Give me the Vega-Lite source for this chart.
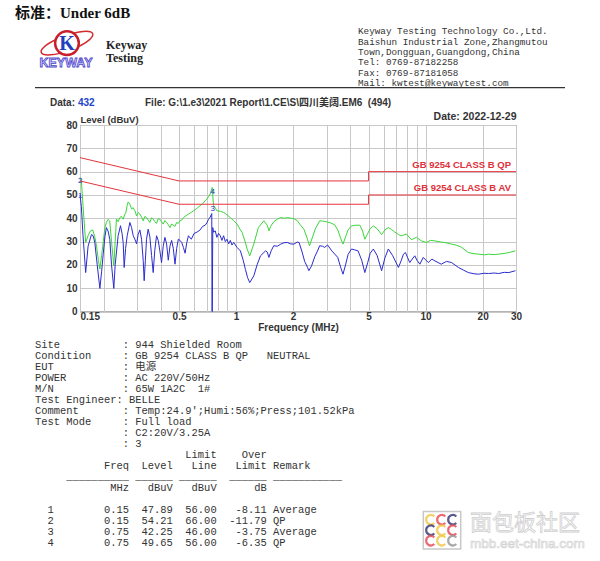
{
  "$schema": "https://vega.github.io/schema/vega-lite/v6.json",
  "padding": {"left": 15, "top": 5, "right": 5, "bottom": 5},
  "background": "white",
  "bounds": "flush",
  "spacing": 0,
  "config": {"view": {"stroke": null}},
  "datasets": {
    "letterhead": [
      {"item": "title", "text": "标准：Under 6dB", "line": -0.78},
      {"item": "logo", "text": "K", "line": 2.14},
      {"item": "brand", "text": "KEYWAY", "line": 4.08},
      {"item": "name", "text": "Keyway", "line": 2.34},
      {"item": "name", "text": "Testing", "line": 3.59},
      {"item": "address", "text": "Keyway Testing Technology Co.,Ltd.", "line": 1},
      {"item": "address", "text": "Baishun Industrial Zone,Zhangmutou", "line": 2},
      {"item": "address", "text": "Town,Dongguan,Guangdong,China", "line": 3},
      {"item": "address", "text": "Tel: 0769-87182258", "line": 4},
      {"item": "address", "text": "Fax: 0769-87181058", "line": 5},
      {"item": "address", "text": "Mail: kwtest@keywaytest.com", "line": 6},
      {"item": "rule", "line": 6.43},
      {"item": "data_label", "text": "Data:", "line": 7.89},
      {"item": "data_value", "text": "432", "line": 7.89},
      {"item": "file", "text": "File: G:\\1.e3\\2021 Report\\1.CE\\S\\四川美阔.EM6\u00a0\u00a0(494)", "line": 7.89},
      {"item": "date", "text": "Date: 2022-12-29", "line": 9.25}
    ],
    "qp_scan": [
      {"freq":0.150,"level":57.5},{"freq":0.1525,"level":56},{"freq":0.1556,"level":45.4},{"freq":0.1607,"level":29.6},{"freq":0.1655,"level":32.5},{"freq":0.170,"level":34.5},{"freq":0.175,"level":35},{"freq":0.1796,"level":32},{"freq":0.1834,"level":28},{"freq":0.1875,"level":22},{"freq":0.191,"level":18.2},{"freq":0.195,"level":24},{"freq":0.1991,"level":30},{"freq":0.2030,"level":36},{"freq":0.2067,"level":38.2},{"freq":0.2110,"level":39.5},{"freq":0.2154,"level":38.8},{"freq":0.2200,"level":30},{"freq":0.2262,"level":19.6},{"freq":0.2300,"level":30},{"freq":0.2336,"level":39.6},{"freq":0.2384,"level":38.5},{"freq":0.2434,"level":40.3},{"freq":0.2480,"level":40.8},{"freq":0.2535,"level":39.6},{"freq":0.2580,"level":41.5},{"freq":0.2619,"level":42.5},{"freq":0.2660,"level":45.5},{"freq":0.2695,"level":47},{"freq":0.2750,"level":46},{"freq":0.2807,"level":44},{"freq":0.2864,"level":44.5},{"freq":0.2923,"level":43.2},{"freq":0.2983,"level":41},{"freq":0.3040,"level":42.5},{"freq":0.3105,"level":41.8},{"freq":0.3170,"level":40.5},{"freq":0.3233,"level":38.9},{"freq":0.3300,"level":40.8},{"freq":0.3366,"level":40.3},{"freq":0.3435,"level":39.2},{"freq":0.3506,"level":38.2},{"freq":0.3580,"level":40.2},{"freq":0.3651,"level":39.6},{"freq":0.3720,"level":38.5},{"freq":0.3802,"level":37.8},{"freq":0.3880,"level":39.8},{"freq":0.3959,"level":39.6},{"freq":0.4040,"level":38.5},{"freq":0.4124,"level":37.5},{"freq":0.4209,"level":39},{"freq":0.4297,"level":38.2},{"freq":0.4385,"level":37.2},{"freq":0.4476,"level":36},{"freq":0.4568,"level":37.5},{"freq":0.4663,"level":37},{"freq":0.4758,"level":36.5},{"freq":0.4856,"level":38.2},{"freq":0.4957,"level":37.8},{"freq":0.5059,"level":38.9},{"freq":0.5164,"level":39.2},{"freq":0.527,"level":40.3},{"freq":0.5379,"level":40.8},{"freq":0.5603,"level":41.8},{"freq":0.5800,"level":42.5},{"freq":0.5955,"level":43.2},{"freq":0.6203,"level":44.2},{"freq":0.6461,"level":45.4},{"freq":0.6650,"level":46.2},{"freq":0.6866,"level":47.5},{"freq":0.7007,"level":48.2},{"freq":0.7150,"level":49.2},{"freq":0.7298,"level":50.4},{"freq":0.7400,"level":52},{"freq":0.7480,"level":53.2},{"freq":0.7530,"level":50},{"freq":0.7602,"level":45.4},{"freq":0.7758,"level":44.5},{"freq":0.7918,"level":43.2},{"freq":0.8247,"level":43},{"freq":0.859,"level":42.5},{"freq":0.8948,"level":41.5},{"freq":0.932,"level":40.3},{"freq":0.9709,"level":39},{"freq":1.011,"level":37.5},{"freq":1.0534,"level":35},{"freq":1.075,"level":33.9},{"freq":1.12,"level":29.5},{"freq":1.1429,"level":26.8},{"freq":1.18,"level":23.9},{"freq":1.2397,"level":28.9},{"freq":1.31,"level":36},{"freq":1.40,"level":38.9},{"freq":1.46,"level":37},{"freq":1.49,"level":34.6},{"freq":1.52,"level":36.5},{"freq":1.58,"level":38.5},{"freq":1.65,"level":39.6},{"freq":1.72,"level":40.3},{"freq":1.80,"level":40},{"freq":1.87,"level":40.3},{"freq":1.95,"level":40},{"freq":2.02,"level":39.8},{"freq":2.10,"level":39},{"freq":2.19,"level":37},{"freq":2.28,"level":35.3},{"freq":2.38,"level":31},{"freq":2.44,"level":28.2},{"freq":2.52,"level":31.5},{"freq":2.62,"level":35.5},{"freq":2.76,"level":38.9},{"freq":2.86,"level":38.8},{"freq":2.99,"level":38.5},{"freq":3.15,"level":38},{"freq":3.31,"level":37.2},{"freq":3.44,"level":35},{"freq":3.56,"level":31.5},{"freq":3.665,"level":28.9},{"freq":3.78,"level":32},{"freq":3.9,"level":35},{"freq":4.06,"level":36.7},{"freq":4.25,"level":37},{"freq":4.50,"level":37},{"freq":4.65,"level":34.5},{"freq":4.78,"level":31},{"freq":4.95,"level":33.5},{"freq":5.1,"level":35.5},{"freq":5.30,"level":36.7},{"freq":5.55,"level":35.5},{"freq":5.86,"level":33},{"freq":6.1,"level":35},{"freq":6.36,"level":36},{"freq":6.6,"level":35.2},{"freq":6.85,"level":34.2},{"freq":7.19,"level":33},{"freq":7.45,"level":32.5},{"freq":7.92,"level":33.2},{"freq":8.42,"level":30.8},{"freq":8.95,"level":31.8},{"freq":9.5,"level":30.3},{"freq":10.1,"level":29.6},{"freq":10.6,"level":30.5},{"freq":11.2,"level":30.3},{"freq":12.0,"level":29.8},{"freq":12.63,"level":29.6},{"freq":13.7,"level":28.9},{"freq":14.5,"level":28.5},{"freq":15.5,"level":27.5},{"freq":16.8,"level":25.3},{"freq":18.0,"level":24.8},{"freq":19.0,"level":24.6},{"freq":20.5,"level":24.3},{"freq":21.5,"level":24.6},{"freq":23,"level":24.4},{"freq":24.3,"level":24.6},{"freq":26,"level":24.9},{"freq":27.5,"level":25.3},{"freq":29.8,"level":26}
    ],
    "av_scan": [
      {"freq":0.150,"level":50},{"freq":0.1525,"level":45},{"freq":0.1556,"level":32.5},{"freq":0.1607,"level":16.7},{"freq":0.1655,"level":28},{"freq":0.1724,"level":33},{"freq":0.1760,"level":32.5},{"freq":0.1796,"level":29.6},{"freq":0.1849,"level":20},{"freq":0.191,"level":9.9},{"freq":0.1950,"level":17},{"freq":0.1991,"level":25},{"freq":0.2030,"level":32},{"freq":0.2067,"level":36},{"freq":0.2110,"level":34.5},{"freq":0.2154,"level":31},{"freq":0.2200,"level":20},{"freq":0.2262,"level":9.9},{"freq":0.2300,"level":20},{"freq":0.2384,"level":32.5},{"freq":0.2454,"level":36.8},{"freq":0.2500,"level":33.5},{"freq":0.2535,"level":29.6},{"freq":0.2566,"level":18.9},{"freq":0.2610,"level":27},{"freq":0.2662,"level":32.5},{"freq":0.2750,"level":38.2},{"freq":0.2807,"level":36},{"freq":0.2864,"level":32.5},{"freq":0.2923,"level":31},{"freq":0.2983,"level":29},{"freq":0.3040,"level":33},{"freq":0.3105,"level":35},{"freq":0.3170,"level":31},{"freq":0.3233,"level":22},{"freq":0.3272,"level":13.2},{"freq":0.3320,"level":22},{"freq":0.3366,"level":31},{"freq":0.3435,"level":35.3},{"freq":0.3506,"level":32},{"freq":0.3580,"level":24},{"freq":0.3651,"level":16.7},{"freq":0.3720,"level":26},{"freq":0.3802,"level":32.5},{"freq":0.3880,"level":30.5},{"freq":0.3959,"level":26},{"freq":0.4040,"level":21},{"freq":0.4124,"level":28},{"freq":0.4209,"level":31.8},{"freq":0.4297,"level":29},{"freq":0.4385,"level":22},{"freq":0.4476,"level":28},{"freq":0.4568,"level":30.5},{"freq":0.4663,"level":27},{"freq":0.4758,"level":20.3},{"freq":0.4856,"level":27},{"freq":0.4957,"level":31},{"freq":0.5059,"level":30.5},{"freq":0.5164,"level":29.6},{"freq":0.527,"level":27.5},{"freq":0.5379,"level":25},{"freq":0.5490,"level":29.5},{"freq":0.5603,"level":32.5},{"freq":0.5800,"level":31},{"freq":0.6000,"level":33.5},{"freq":0.6203,"level":34},{"freq":0.6461,"level":35},{"freq":0.6650,"level":36.5},{"freq":0.6866,"level":37},{"freq":0.7007,"level":38},{"freq":0.7150,"level":39.5},{"freq":0.7298,"level":40.5},{"freq":0.7440,"level":42},{"freq":0.7465,"level":0},{"freq":0.7485,"level":0},{"freq":0.7530,"level":36},{"freq":0.7602,"level":34},{"freq":0.7758,"level":34.6},{"freq":0.7918,"level":31.8},{"freq":0.8080,"level":33.5},{"freq":0.8247,"level":32.5},{"freq":0.8420,"level":30.5},{"freq":0.8590,"level":32.5},{"freq":0.8770,"level":30},{"freq":0.8948,"level":31},{"freq":0.9130,"level":29},{"freq":0.9320,"level":30.5},{"freq":0.9510,"level":28.5},{"freq":0.9709,"level":29.6},{"freq":1.011,"level":27.5},{"freq":1.0534,"level":26},{"freq":1.0900,"level":22},{"freq":1.12,"level":18},{"freq":1.15,"level":14.5},{"freq":1.18,"level":12.4},{"freq":1.24,"level":15.3},{"freq":1.29,"level":20},{"freq":1.345,"level":23.9},{"freq":1.43,"level":26},{"freq":1.46,"level":25.5},{"freq":1.49,"level":23.2},{"freq":1.53,"level":26},{"freq":1.58,"level":28.2},{"freq":1.65,"level":28},{"freq":1.72,"level":28.9},{"freq":1.79,"level":29.5},{"freq":1.86,"level":29.6},{"freq":1.94,"level":29},{"freq":2.02,"level":28.9},{"freq":2.10,"level":29.8},{"freq":2.15,"level":29.6},{"freq":2.23,"level":25.5},{"freq":2.30,"level":21.5},{"freq":2.38,"level":19},{"freq":2.42,"level":17.5},{"freq":2.50,"level":19.5},{"freq":2.60,"level":23.5},{"freq":2.69,"level":26},{"freq":2.76,"level":28.2},{"freq":2.86,"level":28},{"freq":2.93,"level":27.5},{"freq":3.04,"level":28.5},{"freq":3.2,"level":26},{"freq":3.44,"level":23.2},{"freq":3.56,"level":19},{"freq":3.665,"level":16},{"freq":3.78,"level":20},{"freq":3.9,"level":24.5},{"freq":4.06,"level":26.8},{"freq":4.2,"level":26.5},{"freq":4.4,"level":26},{"freq":4.6,"level":22},{"freq":4.78,"level":16.7},{"freq":4.95,"level":21},{"freq":5.1,"level":25},{"freq":5.30,"level":26.8},{"freq":5.55,"level":24},{"freq":5.86,"level":17.5},{"freq":6.1,"level":23},{"freq":6.36,"level":26.8},{"freq":6.7,"level":24},{"freq":7.19,"level":18.9},{"freq":7.45,"level":22},{"freq":7.64,"level":24.6},{"freq":7.83,"level":25.3},{"freq":8.05,"level":23},{"freq":8.25,"level":21},{"freq":8.5,"level":22.5},{"freq":8.77,"level":23.9},{"freq":9.0,"level":22},{"freq":9.33,"level":20.3},{"freq":9.72,"level":23.2},{"freq":10.33,"level":21},{"freq":10.8,"level":22.5},{"freq":11.2,"level":21.7},{"freq":12.1,"level":20.3},{"freq":12.9,"level":21.5},{"freq":13.7,"level":21},{"freq":14.9,"level":18.9},{"freq":15.8,"level":17.8},{"freq":16.8,"level":16.7},{"freq":18,"level":16.2},{"freq":19,"level":16},{"freq":20.3,"level":16.4},{"freq":21.5,"level":16.3},{"freq":23,"level":16.5},{"freq":24.3,"level":16.3},{"freq":26,"level":16.8},{"freq":27.5,"level":16.7},{"freq":29.8,"level":17.5}
    ],
    "limits": [
      {"limit":"GB 9254 CLASS B QP","seq":1,"freq":0.15,"level":66},
      {"limit":"GB 9254 CLASS B QP","seq":2,"freq":0.5,"level":56},
      {"limit":"GB 9254 CLASS B QP","seq":3,"freq":5,"level":56},
      {"limit":"GB 9254 CLASS B QP","seq":4,"freq":5,"level":60},
      {"limit":"GB 9254 CLASS B QP","seq":5,"freq":30,"level":60},
      {"limit":"GB 9254 CLASS B AV","seq":1,"freq":0.15,"level":56},
      {"limit":"GB 9254 CLASS B AV","seq":2,"freq":0.5,"level":46},
      {"limit":"GB 9254 CLASS B AV","seq":3,"freq":5,"level":46},
      {"limit":"GB 9254 CLASS B AV","seq":4,"freq":5,"level":50},
      {"limit":"GB 9254 CLASS B AV","seq":5,"freq":30,"level":50}
    ],
    "limit_labels": [
      {"limit":"GB 9254 CLASS B QP","freq":30,"level":60},
      {"limit":"GB 9254 CLASS B AV","freq":30,"level":50}
    ],
    "markers": [
      {"no":"1","freq":0.15,"level":47.89,"limit":56,"over":-8.11,"remark":"Average"},
      {"no":"2","freq":0.15,"level":54.21,"limit":66,"over":-11.79,"remark":"QP"},
      {"no":"3","freq":0.75,"level":42.25,"limit":46,"over":-3.75,"remark":"Average"},
      {"no":"4","freq":0.75,"level":49.65,"limit":56,"over":-6.35,"remark":"QP"}
    ],
    "printout": [
      {"line":0,"text":"Site\u00a0\u00a0\u00a0\u00a0\u00a0\u00a0\u00a0\u00a0\u00a0\u00a0: 944 Shielded Room"},
      {"line":1,"text":"Condition\u00a0\u00a0\u00a0\u00a0\u00a0: GB 9254 CLASS B QP\u00a0\u00a0\u00a0NEUTRAL"},
      {"line":2,"text":"EUT\u00a0\u00a0\u00a0\u00a0\u00a0\u00a0\u00a0\u00a0\u00a0\u00a0\u00a0: 电源"},
      {"line":3,"text":"POWER\u00a0\u00a0\u00a0\u00a0\u00a0\u00a0\u00a0\u00a0\u00a0: AC 220V/50Hz"},
      {"line":4,"text":"M/N\u00a0\u00a0\u00a0\u00a0\u00a0\u00a0\u00a0\u00a0\u00a0\u00a0\u00a0: 65W 1A2C\u00a0\u00a01#"},
      {"line":5,"text":"Test Engineer: BELLE"},
      {"line":6,"text":"Comment\u00a0\u00a0\u00a0\u00a0\u00a0\u00a0\u00a0: Temp:24.9';Humi:56%;Press;101.52kPa"},
      {"line":7,"text":"Test Mode\u00a0\u00a0\u00a0\u00a0\u00a0: Full load"},
      {"line":8,"text":"\u200b\u00a0\u00a0\u00a0\u00a0\u00a0\u00a0\u00a0\u00a0\u00a0\u00a0\u00a0\u00a0\u00a0\u00a0: C2:20V/3.25A"},
      {"line":9,"text":"\u200b\u00a0\u00a0\u00a0\u00a0\u00a0\u00a0\u00a0\u00a0\u00a0\u00a0\u00a0\u00a0\u00a0\u00a0: 3"},
      {"line":10,"text":"\u200b\u00a0\u00a0\u00a0\u00a0\u00a0\u00a0\u00a0\u00a0\u00a0\u00a0\u00a0\u00a0\u00a0\u00a0\u00a0\u00a0\u00a0\u00a0\u00a0\u00a0\u00a0\u00a0\u00a0\u00a0Limit\u00a0\u00a0\u00a0\u00a0Over"},
      {"line":11,"text":"\u200b\u00a0\u00a0\u00a0\u00a0\u00a0\u00a0\u00a0\u00a0\u00a0\u00a0\u00a0Freq\u00a0\u00a0Level\u00a0\u00a0\u00a0Line\u00a0\u00a0\u00a0Limit Remark"},
      {"line":12,"text":"\u200b\u00a0\u00a0\u00a0\u00a0\u00a0__________ ______ ______\u00a0\u00a0______ ___________"},
      {"line":13,"text":"\u200b\u00a0\u00a0\u00a0\u00a0\u00a0\u00a0\u00a0\u00a0\u00a0\u00a0\u00a0\u00a0MHz\u00a0\u00a0\u00a0dBuV\u00a0\u00a0\u00a0dBuV\u00a0\u00a0\u00a0\u00a0\u00a0\u00a0dB"},
      {"line":15,"text":"\u200b\u00a0\u00a01\u00a0\u00a0\u00a0\u00a0\u00a0\u00a0\u00a0\u00a00.15\u00a0\u00a047.89\u00a0\u00a056.00\u00a0\u00a0\u00a0-8.11 Average"},
      {"line":16,"text":"\u200b\u00a0\u00a02\u00a0\u00a0\u00a0\u00a0\u00a0\u00a0\u00a0\u00a00.15\u00a0\u00a054.21\u00a0\u00a066.00\u00a0\u00a0-11.79 QP"},
      {"line":17,"text":"\u200b\u00a0\u00a03\u00a0\u00a0\u00a0\u00a0\u00a0\u00a0\u00a0\u00a00.75\u00a0\u00a042.25\u00a0\u00a046.00\u00a0\u00a0\u00a0-3.75 Average"},
      {"line":18,"text":"\u200b\u00a0\u00a04\u00a0\u00a0\u00a0\u00a0\u00a0\u00a0\u00a0\u00a00.75\u00a0\u00a049.65\u00a0\u00a056.00\u00a0\u00a0\u00a0-6.35 QP"}
    ],
    "watermark": [
      {"item":"logo","line":16.8},
      {"item":"arc","col":"left","line":15.85,"tone":"yellow"},
      {"item":"arc","col":"mid","line":15.85,"tone":"red"},
      {"item":"arc","col":"right","line":15.85,"tone":"navy"},
      {"item":"arc","col":"left","line":16.8,"tone":"navy"},
      {"item":"arc","col":"mid","line":16.8,"tone":"yellow"},
      {"item":"arc","col":"right","line":16.8,"tone":"red"},
      {"item":"arc","col":"left","line":17.75,"tone":"red"},
      {"item":"arc","col":"mid","line":17.75,"tone":"yellow"},
      {"item":"arc","col":"right","line":17.75,"tone":"gray"},
      {"item":"name","text":"面包板社区","line":16.16},
      {"item":"site","text":"mbb.eet-china.com","line":18.06}
    ]
  },
  "vconcat": [
    {
      "width": 436,
      "height": 103.5,
      "data": {"name": "letterhead"},
      "encoding": {
        "y": {"field": "line", "type": "quantitative", "scale": {"domain": [0, 10], "reverse": true, "nice": false, "zero": false}, "axis": null}
      },
      "layer": [
        {
          "transform": [{"filter": "datum.item == 'title'"}],
          "mark": {"type": "text", "align": "left", "baseline": "middle", "font": "Liberation Serif, Noto Sans CJK SC", "fontSize": 15, "fontWeight": "bold", "color": "#111"},
          "encoding": {"x": {"datum": 15, "type": "quantitative", "scale": {"domain": [80, 516], "nice": false, "zero": false}, "axis": null}, "text": {"field": "text"}}
        },
        {
          "transform": [{"filter": "datum.item == 'logo'"}],
          "mark": {"type": "point", "shape": "M-1,0A1,0.28,0,1,0,1,0A1,0.28,0,1,0,-1,0Z", "size": 3000, "angle": -20, "filled": false, "stroke": "#d42a2a", "strokeWidth": 1.5, "opacity": 1},
          "encoding": {"x": {"datum": 67, "type": "quantitative", "scale": {"domain": [80, 516], "nice": false, "zero": false}, "axis": null}}
        },
        {
          "transform": [{"filter": "datum.item == 'logo'"}],
          "mark": {"type": "point", "shape": "circle", "size": 560, "filled": true, "fill": "white", "stroke": "#c8202a", "strokeWidth": 2.5, "opacity": 1},
          "encoding": {"x": {"datum": 67, "type": "quantitative", "scale": {"domain": [80, 516], "nice": false, "zero": false}, "axis": null}}
        },
        {
          "transform": [{"filter": "datum.item == 'logo'"}],
          "mark": {"type": "text", "align": "center", "baseline": "middle", "font": "Liberation Serif", "fontSize": 20, "fontWeight": "bold", "color": "#1f3fbf", "dy": 1},
          "encoding": {"x": {"datum": 67, "type": "quantitative", "scale": {"domain": [80, 516], "nice": false, "zero": false}, "axis": null}, "text": {"field": "text"}}
        },
        {
          "transform": [{"filter": "datum.item == 'brand'"}],
          "mark": {"type": "text", "align": "center", "baseline": "middle", "font": "Liberation Sans", "fontSize": 12.5, "fontWeight": "bold", "fill": "#d6d6ff", "stroke": "#4f46c8", "strokeWidth": 0.8},
          "encoding": {"x": {"datum": 66, "type": "quantitative", "scale": {"domain": [80, 516], "nice": false, "zero": false}, "axis": null}, "text": {"field": "text"}}
        },
        {
          "transform": [{"filter": "datum.item == 'name'"}],
          "mark": {"type": "text", "align": "left", "baseline": "middle", "font": "Liberation Serif", "fontSize": 12, "fontWeight": "bold", "color": "#222"},
          "encoding": {"x": {"datum": 106, "type": "quantitative", "scale": {"domain": [80, 516], "nice": false, "zero": false}, "axis": null}, "text": {"field": "text"}}
        },
        {
          "transform": [{"filter": "datum.item == 'address'"}],
          "mark": {"type": "text", "align": "left", "baseline": "middle", "font": "Liberation Mono", "fontSize": 9.3, "color": "#333"},
          "encoding": {"x": {"datum": 358, "type": "quantitative", "scale": {"domain": [80, 516], "nice": false, "zero": false}, "axis": null}, "text": {"field": "text"}}
        },
        {
          "transform": [{"filter": "datum.item == 'rule'"}],
          "mark": {"type": "rule", "color": "#333", "strokeWidth": 1.2},
          "encoding": {"x": {"datum": 35, "type": "quantitative", "scale": {"domain": [80, 516], "nice": false, "zero": false}, "axis": null}, "x2": {"datum": 565}}
        },
        {
          "transform": [{"filter": "datum.item == 'data_label'"}],
          "mark": {"type": "text", "align": "left", "baseline": "middle", "font": "Liberation Sans", "fontSize": 10, "fontWeight": "bold", "color": "#333"},
          "encoding": {"x": {"datum": 50, "type": "quantitative", "scale": {"domain": [80, 516], "nice": false, "zero": false}, "axis": null}, "text": {"field": "text"}}
        },
        {
          "transform": [{"filter": "datum.item == 'data_value'"}],
          "mark": {"type": "text", "align": "left", "baseline": "middle", "font": "Liberation Sans", "fontSize": 10, "fontWeight": "bold", "color": "#2244cc"},
          "encoding": {"x": {"datum": 78, "type": "quantitative", "scale": {"domain": [80, 516], "nice": false, "zero": false}, "axis": null}, "text": {"field": "text"}}
        },
        {
          "transform": [{"filter": "datum.item == 'file'"}],
          "mark": {"type": "text", "align": "left", "baseline": "middle", "font": "Liberation Sans, Noto Sans CJK SC", "fontSize": 10, "fontWeight": "bold", "color": "#333"},
          "encoding": {"x": {"datum": 145, "type": "quantitative", "scale": {"domain": [80, 516], "nice": false, "zero": false}, "axis": null}, "text": {"field": "text"}}
        },
        {
          "transform": [{"filter": "datum.item == 'date'"}],
          "mark": {"type": "text", "align": "right", "baseline": "middle", "font": "Liberation Sans", "fontSize": 10.5, "fontWeight": "bold", "color": "#333"},
          "encoding": {"x": {"datum": 516.5, "type": "quantitative", "scale": {"domain": [80, 516], "nice": false, "zero": false}, "axis": null}, "text": {"field": "text"}}
        }
      ]
    },
    {
      "width": 436,
      "height": 186.5,
      "view": {"stroke": "#666", "strokeWidth": 1},
      "encoding": {
        "x": {
          "field": "freq", "type": "quantitative", "title": "Frequency (MHz)",
          "scale": {"type": "log", "domain": [0.15, 30], "nice": false},
          "axis": {
            "values": [0.15, 0.2, 0.3, 0.4, 0.5, 0.6, 0.7, 0.8, 0.9, 1, 2, 3, 4, 5, 6, 7, 8, 9, 10, 20, 30],
            "labelExpr": "indexof([0.15, 0.5, 1, 2, 5, 10, 20, 30], datum.value) >= 0 ? format(datum.value, '~g') : ''",
            "labelAlign": {"condition": {"test": "datum.value <= 0.15", "value": "left"}, "value": "center"},
            "labelOverlap": false, "labelFlush": false, "labelBound": false,
            "grid": true, "gridColor": "#c8c8c8", "gridWidth": 1,
            "domain": false, "ticks": false, "tickSize": 0,
            "labelPadding": 0, "labelFont": "Liberation Sans", "labelFontSize": 10, "labelFontWeight": "bold", "labelColor": "#333",
            "titleFont": "Liberation Sans", "titleFontSize": 10, "titleFontWeight": "bold", "titleColor": "#333", "titlePadding": 1
          }
        },
        "y": {
          "field": "level", "type": "quantitative", "title": "Level (dBuV)",
          "scale": {"domain": [0, 80], "nice": false, "zero": false},
          "axis": {
            "values": [0, 10, 20, 30, 40, 50, 60, 70, 80],
            "grid": true, "gridColor": "#c8c8c8", "gridWidth": 1,
            "domain": false, "ticks": false, "tickSize": 0,
            "labelPadding": 3, "labelFont": "Liberation Sans", "labelFontSize": 10, "labelFontWeight": "bold", "labelColor": "#333",
            "titleAngle": 0, "titleAlign": "left", "titleBaseline": "bottom", "titleX": 0, "titleY": -1,
            "titleFont": "Liberation Sans", "titleFontSize": 9.5, "titleFontWeight": "bold", "titleColor": "#333"
          }
        }
      },
      "layer": [
        {"data": {"name": "qp_scan"}, "mark": {"type": "line", "color": "#3ad63a", "strokeWidth": 1}},
        {"data": {"name": "av_scan"}, "mark": {"type": "line", "color": "#2b2bcf", "strokeWidth": 1}},
        {
          "data": {"name": "limits"},
          "mark": {"type": "line", "color": "#e6343c", "strokeWidth": 1},
          "encoding": {"detail": {"field": "limit"}, "order": {"field": "seq"}}
        },
        {
          "data": {"name": "limit_labels"},
          "mark": {"type": "text", "align": "right", "baseline": "bottom", "dx": -5, "dy": -2, "font": "Liberation Sans", "fontSize": 9.5, "fontWeight": "bold", "color": "#e0303a"},
          "encoding": {"text": {"field": "limit"}}
        },
        {
          "data": {"name": "markers"},
          "mark": {"type": "text", "align": "left", "baseline": "bottom", "dx": -2, "font": "Liberation Sans", "fontSize": 8, "color": "#2a2ad0"},
          "encoding": {"text": {"field": "no"}}
        }
      ]
    },
    {
      "width": 436,
      "height": 243.1,
      "encoding": {
        "y": {"field": "line", "type": "quantitative", "scale": {"domain": [-2.95, 19.05], "reverse": true, "nice": false, "zero": false}, "axis": null}
      },
      "layer": [
        {
          "data": {"name": "printout"},
          "mark": {"type": "text", "align": "left", "baseline": "middle", "font": "Liberation Mono, Noto Sans CJK SC", "fontSize": 10.45, "color": "#333"},
          "encoding": {"x": {"datum": 35, "type": "quantitative", "scale": {"domain": [80, 516], "nice": false, "zero": false}, "axis": null}, "text": {"field": "text"}}
        },
        {
          "data": {"name": "watermark"},
          "transform": [{"filter": "datum.item == 'logo'"}],
          "mark": {"type": "point", "shape": "square", "size": 1400, "filled": true, "fill": "white", "stroke": "#c8c8c8", "strokeWidth": 1.5, "opacity": 1},
          "encoding": {"x": {"datum": 442, "type": "quantitative", "scale": {"domain": [80, 516], "nice": false, "zero": false}, "axis": null}}
        },
        {
          "data": {"name": "watermark"},
          "transform": [{"filter": "datum.item == 'arc' && datum.col == 'left'"}],
          "mark": {"type": "point", "shape": "M0.7,-0.7A1,1,0,1,0,0.7,0.7", "size": 90, "filled": false, "strokeWidth": 2.2, "opacity": 0.85},
          "encoding": {
            "x": {"datum": 431, "type": "quantitative", "scale": {"domain": [80, 516], "nice": false, "zero": false}, "axis": null},
            "color": {"field": "tone", "type": "nominal", "scale": {"domain": ["yellow", "red", "navy", "gray"], "range": ["#f2c94c", "#e8505b", "#3d3d7a", "#9a9a9a"]}, "legend": null}
          }
        },
        {
          "data": {"name": "watermark"},
          "transform": [{"filter": "datum.item == 'arc' && datum.col == 'mid'"}],
          "mark": {"type": "point", "shape": "M0.7,-0.7A1,1,0,1,0,0.7,0.7", "size": 90, "filled": false, "strokeWidth": 2.2, "opacity": 0.85},
          "encoding": {
            "x": {"datum": 442, "type": "quantitative", "scale": {"domain": [80, 516], "nice": false, "zero": false}, "axis": null},
            "color": {"field": "tone", "type": "nominal", "scale": {"domain": ["yellow", "red", "navy", "gray"], "range": ["#f2c94c", "#e8505b", "#3d3d7a", "#9a9a9a"]}, "legend": null}
          }
        },
        {
          "data": {"name": "watermark"},
          "transform": [{"filter": "datum.item == 'arc' && datum.col == 'right'"}],
          "mark": {"type": "point", "shape": "M0.7,-0.7A1,1,0,1,0,0.7,0.7", "size": 90, "filled": false, "strokeWidth": 2.2, "opacity": 0.85},
          "encoding": {
            "x": {"datum": 453, "type": "quantitative", "scale": {"domain": [80, 516], "nice": false, "zero": false}, "axis": null},
            "color": {"field": "tone", "type": "nominal", "scale": {"domain": ["yellow", "red", "navy", "gray"], "range": ["#f2c94c", "#e8505b", "#3d3d7a", "#9a9a9a"]}, "legend": null}
          }
        },
        {
          "data": {"name": "watermark"},
          "transform": [{"filter": "datum.item == 'name'"}],
          "mark": {"type": "text", "align": "left", "baseline": "middle", "font": "Noto Sans CJK SC", "fontSize": 22, "fill": "#ffffff", "stroke": "#cfcfcf", "strokeWidth": 0.8},
          "encoding": {"x": {"datum": 470, "type": "quantitative", "scale": {"domain": [80, 516], "nice": false, "zero": false}, "axis": null}, "text": {"field": "text"}}
        },
        {
          "data": {"name": "watermark"},
          "transform": [{"filter": "datum.item == 'site'"}],
          "mark": {"type": "text", "align": "left", "baseline": "middle", "font": "Liberation Sans", "fontSize": 13.5, "fill": "#ffffff", "stroke": "#d2d2d2", "strokeWidth": 0.7},
          "encoding": {"x": {"datum": 470, "type": "quantitative", "scale": {"domain": [80, 516], "nice": false, "zero": false}, "axis": null}, "text": {"field": "text"}}
        }
      ]
    }
  ]
}
